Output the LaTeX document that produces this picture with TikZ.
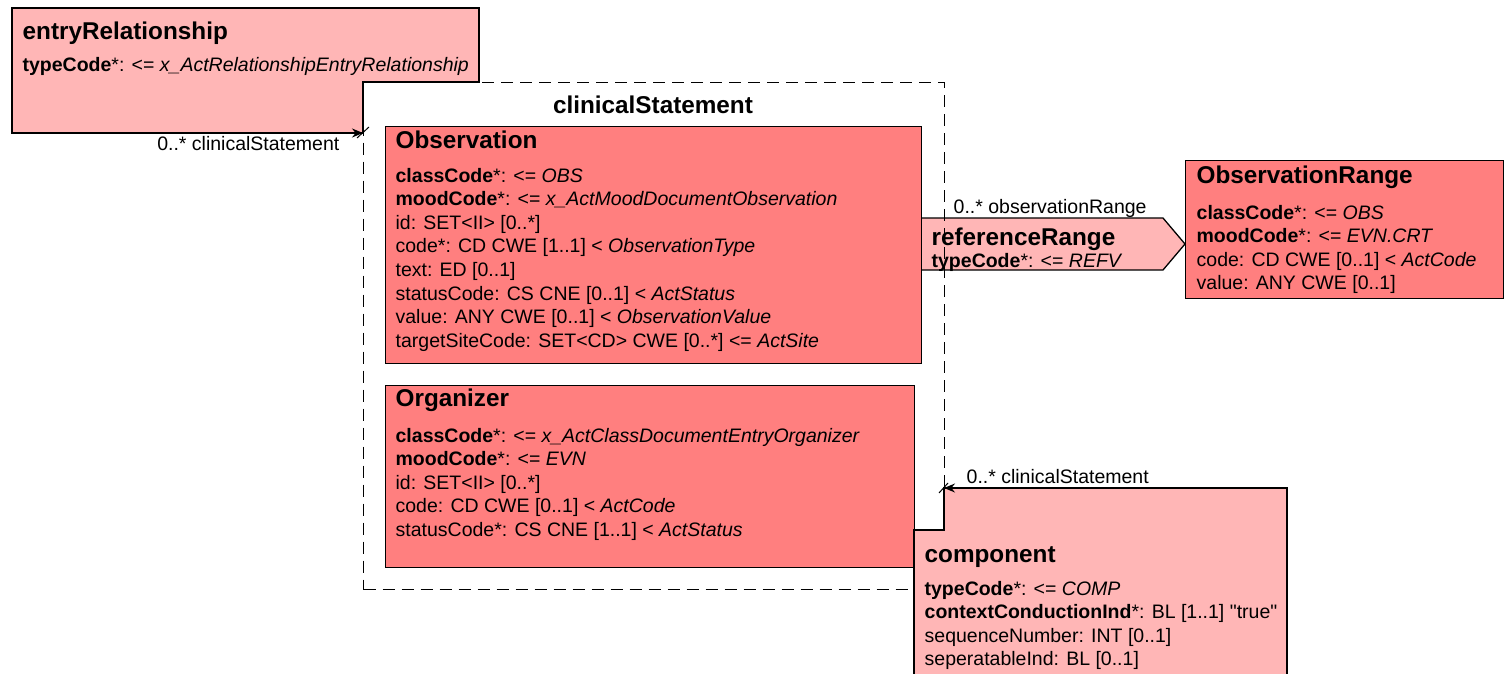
\documentclass[tikz,border=0pt]{standalone}
\usepackage{fontspec}
\setmainfont{Liberation Sans}
\usetikzlibrary{arrows.meta,positioning}
\definecolor{actpink}{HTML}{FFB6B6}
\definecolor{actred}{HTML}{FF7F7F}

\tikzset{
  clsbox/.style={draw=black, fill=actred, anchor=north west, inner sep=0pt},
  clstitle/.style={anchor=base west, inner sep=0pt,
    font=\fontsize{24.3}{28}\selectfont\bfseries},
  clsattrs/.style={anchor=base west, inner sep=0pt, align=left,
    font=\fontsize{19.5}{23.6}\selectfont},
  rolelabel/.style={anchor=base west, inner sep=0pt,
    font=\fontsize{19.5}{23.6}\selectfont},
  groupbox/.style={draw=black, dash pattern=on 12pt off 7pt},
  assoc/.style={-{Stealth[length=11pt,width=9pt]}},
}

\begin{document}
\begin{tikzpicture}[x=1pt, y=-1pt, line width=1.3pt]
\useasboundingbox (0,0) rectangle (1505,674);

% pixel coordinates of the reference, y grows downwards
% (attribute blocks are placed by the baseline of their last line)
\coordinate (rrA) at (921,218);
\coordinate (rrB) at (1163,218);
\coordinate (rrC) at (1185,244);
\coordinate (rrD) at (1163,270);
\coordinate (rrE) at (921,270);

% --- referenceRange (act relationship, arrow shape) ---
\fill[actpink] (rrA) -- (rrB) -- (rrC) -- (rrD) -- (rrE) -- cycle;
\draw (rrA) -- (rrB) -- (rrC) -- (rrD) -- (rrE);

% --- clinicalStatement choice box ---
\node[groupbox, anchor=north west, inner sep=0pt,
  minimum width=581pt, minimum height=507pt] (cs) at (363,82) {};
\node[clstitle, anchor=base] (csT) at (653,113.5) {clinicalStatement};

% --- Observation ---
\node[clsbox, minimum width=536pt, minimum height=237pt] (obs) at (385,126) {};
\node[clstitle] (obsT) at (395,148.5) {Observation};
\node[clsattrs] (obsA) at (395,347.2) {%
  \textbf{classCode}*: <= \textit{OBS}\\
  \textbf{moodCode}*: <= \textit{x\_ActMoodDocumentObservation}\\
  id: SET<II> [0..*]\\
  code*: CD CWE [1..1] < \textit{ObservationType}\\
  text: ED [0..1]\\
  statusCode: CS CNE [0..1] < \textit{ActStatus}\\
  value: ANY CWE [0..1] < \textit{ObservationValue}\\
  targetSiteCode: SET<CD> CWE [0..*] <= \textit{ActSite}};

% --- Organizer ---
\node[clsbox, minimum width=529pt, minimum height=182pt] (org) at (385,385) {};
\node[clstitle] (orgT) at (395,406.5) {Organizer};
\node[clsattrs] (orgA) at (395,536.4) {%
  \textbf{classCode}*: <= \textit{x\_ActClassDocumentEntryOrganizer}\\
  \textbf{moodCode}*: <= \textit{EVN}\\
  id: SET<II> [0..*]\\
  code: CD CWE [0..1] < \textit{ActCode}\\
  statusCode*: CS CNE [1..1] < \textit{ActStatus}};

% --- referenceRange texts ---
\node[clstitle] (rrT) at (931,245.5) {referenceRange};
\node[clsattrs] (rrA2) at (931,267) {\textbf{typeCode}*: <= \textit{REFV}};
\node[rolelabel] (rrL) at (953,213) {0..* observationRange};

% --- ObservationRange ---
\node[clsbox, minimum width=318pt, minimum height=138pt] (range) at (1185,160) {};
\node[clstitle] (rangeT) at (1196,183.5) {ObservationRange};
\node[clsattrs] (rangeA) at (1196,289.8) {%
  \textbf{classCode}*: <= \textit{OBS}\\
  \textbf{moodCode}*: <= \textit{EVN.CRT}\\
  code: CD CWE [0..1] < \textit{ActCode}\\
  value: ANY CWE [0..1]};

% --- entryRelationship (wraps round the corner of the choice box) ---
\coordinate (erA) at (12,8);
\coordinate (erB) at (479,8);
\coordinate (erC) at (479,82);
\coordinate (erD) at (363,82);
\coordinate (erE) at (363,133);
\coordinate (erF) at (12,133);
\filldraw[fill=actpink] (erA) -- (erB) -- (erC) -- (erD) -- (erE) -- (erF) -- cycle;
\node[clstitle] (erT) at (22,39.5) {entryRelationship};
\node[clsattrs] (erA2) at (22,72)
  {\textbf{typeCode}*: <= \textit{x\_ActRelationshipEntryRelationship}};
\coordinate (erTail) at (345,133);
\draw[assoc] (erTail) -- (erE);
\draw[line width=1pt] ([shift={(-6,5)}]erE) -- ([shift={(6,-6)}]erE);
\node[rolelabel, anchor=base east] (erL) at (340,151) {0..* clinicalStatement};

% --- component (wraps round the corner of the choice box) ---
\coordinate (cpA) at (944,488);
\coordinate (cpB) at (1287,488);
\coordinate (cpC) at (1287,690);
\coordinate (cpD) at (914,690);
\coordinate (cpE) at (914,530);
\coordinate (cpF) at (944,530);
\filldraw[fill=actpink] (cpA) -- (cpB) -- (cpC) -- (cpD) -- (cpE) -- (cpF) -- cycle;
\node[clstitle] (cpT) at (924,562.5) {component};
\node[clsattrs] (cpA2) at (924,665.8) {%
  \textbf{typeCode}*: <= \textit{COMP}\\
  \textbf{contextConductionInd}*: BL [1..1] \textquotedbl true\textquotedbl\\
  sequenceNumber: INT [0..1]\\
  seperatableInd: BL [0..1]};
\coordinate (cpTail) at (962,488);
\draw[assoc] (cpTail) -- (cpA);
\draw[line width=1pt] ([shift={(-5,5)}]cpA) -- ([shift={(4,-5)}]cpA);
\node[rolelabel] (cpL) at (966,483) {0..* clinicalStatement};

\end{tikzpicture}
\end{document}
